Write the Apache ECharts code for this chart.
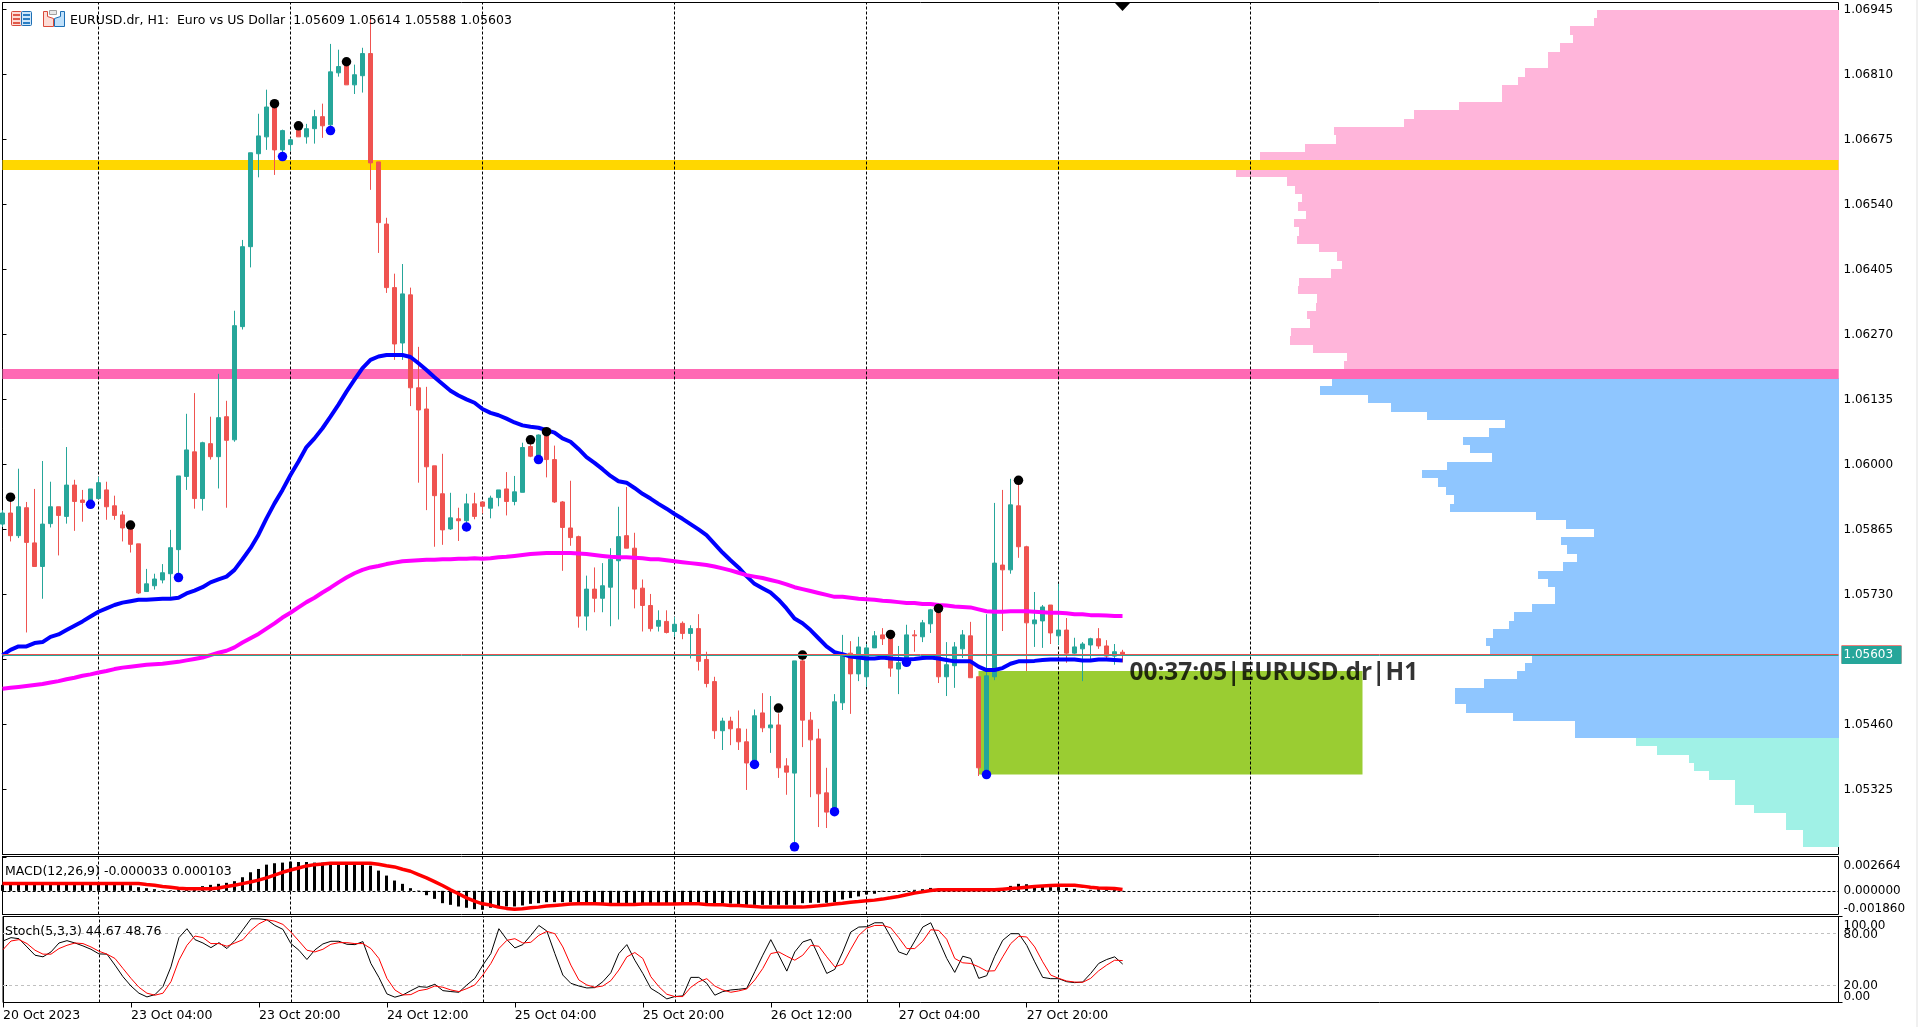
<!DOCTYPE html>
<html><head><meta charset="utf-8"><title>EURUSD.dr H1</title>
<style>html,body{margin:0;padding:0;background:#f0f0f0;overflow:hidden}#c{width:1916px;height:1027px;background:#fff}</style>
<script src="https://cdn.jsdelivr.net/npm/echarts@6/dist/echarts.min.js"></script></head>
<body><div id="c"></div>
<script>
const opens=[1.05875,1.05898,1.05851,1.05909,1.05836,1.05787,1.05876,1.05911,1.05891,1.05956,1.05925,1.05915,1.05928,1.05946,1.05913,1.05894,1.05870,1.05834,1.05735,1.05747,1.05759,1.05772,1.05822,1.05974,1.06025,1.05928,1.06042,1.06015,1.06098,1.06050,1.06285,1.06451,1.06644,1.06679,1.06746,1.06652,1.06663,1.06694,1.06679,1.06696,1.06721,1.06704,1.06812,1.06829,1.06787,1.06806,1.06852,1.06627,1.06498,1.06366,1.06251,1.06351,1.06158,1.06114,1.05996,1.05938,1.05865,1.05886,1.05882,1.05917,1.05921,1.05908,1.05930,1.05948,1.05922,1.05941,1.06036,1.06009,1.06060,1.06009,1.05921,1.05867,1.05849,1.05684,1.05740,1.05721,1.05744,1.05799,1.05851,1.05825,1.05742,1.05706,1.05663,1.05673,1.05652,1.05669,1.05648,1.05658,1.05594,1.05548,1.05446,1.05466,1.05450,1.05423,1.05376,1.05483,1.05452,1.05458,1.05373,1.05358,1.05591,1.05468,1.05429,1.05317,1.05278,1.05504,1.05607,1.05564,1.05558,1.05618,1.05645,1.05638,1.05574,1.05586,1.05645,1.05641,1.05668,1.05697,1.05558,1.05581,1.05616,1.05643,1.05558,1.05364,1.05558,1.05790,1.05780,1.05913,1.05828,1.05668,1.05674,1.05707,1.05643,1.05655,1.05607,1.05616,1.05624,1.05637,1.05622,1.05601,1.05609];
const highs=[1.05904,1.05925,1.05990,1.05921,1.05948,1.06006,1.05963,1.05911,1.06035,1.05967,1.05946,1.05948,1.05973,1.05963,1.05934,1.05902,1.05872,1.05834,1.05782,1.05772,1.05792,1.05863,1.05975,1.06104,1.06147,1.06046,1.06098,1.06187,1.06131,1.06318,1.06465,1.06646,1.06727,1.06777,1.06748,1.06694,1.06677,1.06708,1.06706,1.06735,1.06748,1.06872,1.06860,1.06839,1.06829,1.06864,1.06924,1.06627,1.06511,1.06395,1.06415,1.06366,1.06243,1.06160,1.05996,1.06021,1.05940,1.05909,1.05938,1.05940,1.05921,1.05934,1.05946,1.05983,1.05975,1.06044,1.06046,1.06061,1.06067,1.06038,1.05923,1.05965,1.05851,1.05768,1.05785,1.05794,1.05825,1.05911,1.05952,1.05857,1.05760,1.05730,1.05696,1.05696,1.05682,1.05673,1.05665,1.05688,1.05610,1.05558,1.05473,1.05475,1.05488,1.05450,1.05490,1.05524,1.05518,1.05482,1.05389,1.05591,1.05603,1.05485,1.05450,1.05369,1.05522,1.05645,1.05632,1.05641,1.05626,1.05653,1.05659,1.05646,1.05622,1.05666,1.05655,1.05676,1.05699,1.05700,1.05630,1.05630,1.05655,1.05672,1.05558,1.05688,1.05919,1.05946,1.05969,1.05963,1.05830,1.05734,1.05707,1.05707,1.05751,1.05680,1.05639,1.05630,1.05639,1.05659,1.05634,1.05626,1.05614];
const lows=[1.05869,1.05839,1.05846,1.05650,1.05787,1.05720,1.05868,1.05810,1.05876,1.05861,1.05880,1.05915,1.05928,1.05884,1.05884,1.05839,1.05816,1.05730,1.05735,1.05739,1.05752,1.05724,1.05764,1.05946,1.05907,1.05903,1.06009,1.05949,1.05909,1.06046,1.06279,1.06408,1.06595,1.06652,1.06600,1.06631,1.06650,1.06679,1.06665,1.06665,1.06677,1.06690,1.06804,1.06787,1.06768,1.06771,1.06569,1.06438,1.06355,1.06216,1.06216,1.06120,1.05961,1.05904,1.05828,1.05832,1.05863,1.05840,1.05877,1.05885,1.05897,1.05887,1.05912,1.05893,1.05914,1.05941,1.06014,1.06009,1.05972,1.05919,1.05778,1.05830,1.05660,1.05654,1.05692,1.05692,1.05663,1.05677,1.05825,1.05700,1.05652,1.05652,1.05652,1.05648,1.05641,1.05636,1.05596,1.05571,1.05536,1.05429,1.05406,1.05416,1.05406,1.05323,1.05376,1.05443,1.05400,1.05348,1.05313,1.05205,1.05412,1.05308,1.05246,1.05244,1.05278,1.05489,1.05481,1.05549,1.05537,1.05618,1.05624,1.05558,1.05522,1.05579,1.05610,1.05630,1.05649,1.05545,1.05518,1.05535,1.05597,1.05556,1.05352,1.05354,1.05551,1.05653,1.05772,1.05805,1.05570,1.05620,1.05618,1.05626,1.05624,1.05587,1.05601,1.05549,1.05593,1.05616,1.05597,1.05583,1.05588];
const closes=[1.05898,1.05851,1.05911,1.05837,1.05787,1.05875,1.05911,1.05893,1.05956,1.05922,1.05920,1.05948,1.05961,1.05911,1.05893,1.05867,1.05833,1.05732,1.05751,1.05761,1.05774,1.05826,1.05975,1.06029,1.05928,1.06044,1.06015,1.06096,1.06049,1.06287,1.06451,1.06646,1.06681,1.06741,1.06652,1.06692,1.06673,1.06679,1.06696,1.06721,1.06702,1.06814,1.06825,1.06787,1.06808,1.06852,1.06625,1.06501,1.06366,1.06249,1.06353,1.06158,1.06112,1.05994,1.05934,1.05863,1.05888,1.05882,1.05917,1.05891,1.05912,1.05929,1.05946,1.05922,1.05942,1.06034,1.06016,1.06060,1.06009,1.05921,1.05868,1.05847,1.05684,1.05740,1.05721,1.05747,1.05802,1.05849,1.05825,1.05740,1.05706,1.05658,1.05675,1.05650,1.05667,1.05648,1.05658,1.05590,1.05544,1.05446,1.05466,1.05450,1.05423,1.05379,1.05477,1.05452,1.05458,1.05369,1.05360,1.05591,1.05468,1.05427,1.05315,1.05277,1.05506,1.05601,1.05564,1.05620,1.05618,1.05643,1.05637,1.05576,1.05587,1.05645,1.05643,1.05670,1.05697,1.05558,1.05583,1.05620,1.05645,1.05556,1.05369,1.05560,1.05794,1.05780,1.05915,1.05828,1.05670,1.05676,1.05703,1.05649,1.05655,1.05607,1.05620,1.05626,1.05637,1.05622,1.05601,1.05610,1.05603];
const blueMA=[1.05603,1.05614,1.05621,1.05621,1.05628,1.05630,1.05641,1.05646,1.05655,1.05664,1.05673,1.05683,1.05693,1.05700,1.05707,1.05712,1.05715,1.05718,1.05718,1.05719,1.05720,1.05720,1.05722,1.05731,1.05737,1.05744,1.05754,1.05760,1.05766,1.05780,1.05802,1.05825,1.05853,1.05887,1.05918,1.05946,1.05977,1.06005,1.06035,1.06053,1.06074,1.06098,1.06123,1.06150,1.06175,1.06199,1.06216,1.06223,1.06226,1.06226,1.06226,1.06222,1.06209,1.06195,1.06180,1.06166,1.06152,1.06142,1.06134,1.06127,1.06114,1.06106,1.06101,1.06094,1.06086,1.06080,1.06077,1.06075,1.06070,1.06065,1.06053,1.06046,1.06031,1.06014,1.06002,1.05989,1.05975,1.05964,1.05961,1.05950,1.05938,1.05928,1.05917,1.05907,1.05896,1.05886,1.05875,1.05864,1.05852,1.05834,1.05816,1.05800,1.05785,1.05767,1.05751,1.05742,1.05733,1.05718,1.05700,1.05679,1.05669,1.05655,1.05638,1.05621,1.05609,1.05605,1.05600,1.05598,1.05596,1.05596,1.05598,1.05596,1.05595,1.05594,1.05595,1.05597,1.05598,1.05596,1.05593,1.05590,1.05590,1.05590,1.05579,1.05572,1.05572,1.05576,1.05585,1.05590,1.05590,1.05591,1.05593,1.05594,1.05594,1.05594,1.05594,1.05592,1.05592,1.05594,1.05594,1.05593,1.05592];
const magentaMA=[1.05533,1.05535,1.05537,1.05539,1.05541,1.05543,1.05546,1.05549,1.05553,1.05556,1.05560,1.05563,1.05567,1.05570,1.05574,1.05577,1.05579,1.05581,1.05583,1.05584,1.05585,1.05587,1.05589,1.05592,1.05595,1.05598,1.05603,1.05608,1.05612,1.05619,1.05629,1.05638,1.05647,1.05658,1.05669,1.05681,1.05691,1.05702,1.05713,1.05722,1.05733,1.05743,1.05754,1.05764,1.05773,1.05780,1.05785,1.05788,1.05792,1.05795,1.05798,1.05799,1.05800,1.05801,1.05801,1.05802,1.05802,1.05803,1.05803,1.05804,1.05803,1.05804,1.05806,1.05807,1.05809,1.05811,1.05813,1.05814,1.05815,1.05815,1.05815,1.05815,1.05814,1.05813,1.05811,1.05809,1.05807,1.05806,1.05806,1.05805,1.05804,1.05802,1.05802,1.05800,1.05798,1.05796,1.05794,1.05792,1.05790,1.05787,1.05783,1.05779,1.05774,1.05769,1.05766,1.05763,1.05759,1.05755,1.05750,1.05744,1.05740,1.05736,1.05732,1.05728,1.05724,1.05724,1.05722,1.05720,1.05719,1.05718,1.05716,1.05715,1.05713,1.05711,1.05711,1.05709,1.05709,1.05707,1.05706,1.05704,1.05703,1.05702,1.05698,1.05694,1.05693,1.05693,1.05694,1.05694,1.05694,1.05693,1.05692,1.05691,1.05691,1.05690,1.05688,1.05688,1.05686,1.05686,1.05685,1.05684,1.05684];
const macdHist=[.00047,.00047,.00047,.00047,.00047,.00047,.00047,.00047,.00047,.00047,.00047,.00047,.00047,.00047,.00047,.00047,.00044,.00029,.00021,.00013,.00005,.00005,.00010,.00016,.00023,.00037,.00047,.00055,.00063,.00076,.00107,.00146,.00172,.00206,.00217,.00222,.00230,.00227,.00227,.00222,.00222,.00217,.00217,.00217,.00217,.00211,.00198,.00159,.00120,.00081,.00055,.00021,.00003,-.00034,-.00063,-.00097,-.00110,-.00123,-.00133,-.00144,-.00149,-.00133,-.00133,-.00123,-.00123,-.00115,-.00102,-.00097,-.00089,-.00089,-.00089,-.00089,-.00089,-.00089,-.00089,-.00094,-.00097,-.00102,-.00102,-.00102,-.00102,-.00102,-.00102,-.00102,-.00102,-.00102,-.00102,-.00102,-.00102,-.00097,-.00097,-.00100,-.00105,-.00110,-.00110,-.00110,-.00110,-.00110,-.00110,-.00110,-.00097,-.00094,-.00094,-.00094,-.00089,-.00068,-.00057,-.00044,-.00029,-.00023,-.00003,0,0,.00003,.00008,.00013,.00023,.00016,.00005,.00003,.00003,.00003,.00003,.00003,.00008,.00018,.00039,.00055,.00052,.00044,.00039,.00029,.00029,.00023,.00016,.00005,.00008,.00013,.00013,.00008,-.00003];
const macdSignal=[.00057,.00057,.00057,.00057,.00057,.00057,.00057,.00057,.00057,.00057,.00057,.00057,.00057,.00057,.00057,.00057,.00057,.00057,.00050,.00044,.00034,.00029,.00021,.00016,.00016,.00016,.00016,.00023,.00034,.00044,.00057,.00070,.00084,.00102,.00123,.00146,.00164,.00180,.00196,.00206,.00211,.00217,.00217,.00217,.00217,.00217,.00217,.00209,.00198,.00188,.00170,.00154,.00128,.00102,.00073,.00042,.00008,-.00023,-.00055,-.00081,-.00102,-.00112,-.00128,-.00138,-.00144,-.00141,-.00133,-.00128,-.00120,-.00115,-.00110,-.00104,-.00102,-.00102,-.00102,-.00104,-.00107,-.00107,-.00107,-.00107,-.00104,-.00104,-.00104,-.00104,-.00104,-.00102,-.00102,-.00102,-.00107,-.00110,-.00110,-.00115,-.00115,-.00120,-.00123,-.00128,-.00128,-.00128,-.00128,-.00128,-.00128,-.00123,-.00118,-.00112,-.00104,-.00097,-.00089,-.00084,-.00078,-.00073,-.00065,-.00055,-.00044,-.00031,-.00018,-.00008,.00003,.00008,.00008,.00008,.00008,.00008,.00008,.00008,.00008,.00013,.00018,.00023,.00029,.00034,.00039,.00042,.00044,.00044,.00044,.00037,.00029,.00023,.00021,.00018,.00010];
const stochMain=[71.5,75.4,74.2,64.6,55,53.1,58.8,69.2,71.9,69.2,65.8,61.9,56.5,56.2,43.5,30,19.2,10.8,6.5,9.2,18.5,41.5,75.4,85.8,73.1,69.2,63.8,69.6,62.7,72.3,84.6,97.3,97.3,96.2,89.6,85,68.5,60.8,50,61.2,68.1,71.2,71.2,67.7,67.3,70.8,45.4,29.2,10,6.2,8.8,13.8,18.5,17.7,21.2,13.8,12.7,11.9,20.4,28.1,43.5,56.9,85.8,73.1,63.5,67.3,78.1,89.6,83.1,56.9,31.9,22.3,19.2,16.9,17.3,24.2,34.6,56.9,67.3,49.2,33.8,16.5,10.8,4.2,6.9,7.7,29.2,29.2,22.3,8.5,12.7,14.6,15.4,16.5,35.8,55,73.1,55,36.5,58.8,70.4,73.5,53.8,33.8,38.5,58.8,81.9,87.7,88.1,92.7,92.7,76.2,58.8,55.4,71.5,87.7,92.7,72.3,51.2,35,53.8,51.2,28.1,31.2,53.8,72.3,80,80,66.5,47.3,29.2,27.7,27.7,24.2,23.1,23.8,33.8,45.4,50,53.1,44.67];
const stochSignal=[61.5,71.5,73.1,68.5,60.8,56.2,56.2,62.7,66.5,69.2,68.5,64.6,59.6,56.2,51.2,39.6,28.1,17.7,10.8,8.5,10.8,24.2,49.2,66.5,77.3,75.4,68.5,68.5,65.4,69.2,73.1,83.8,91.5,96.2,94.6,90.8,81.9,71.5,60.8,58.8,61.9,67.7,69.6,69.6,68.5,68.5,62.7,51.2,28.1,14.6,8.8,9.2,13.8,15.4,19.2,17.7,14.6,12.7,16.2,20.4,31.9,45.4,62.7,72.3,74.2,69.2,70,78.1,82.7,80,64.6,43.5,26.2,20.4,17.7,19.2,25.4,37.7,53.1,58.1,51.2,30,18.5,9.6,6.9,6.9,17.7,24.2,27.7,19.2,14.6,11.9,13.5,15.8,26.2,39.6,56.9,58.8,53.8,49.2,55,66.5,65.4,53.1,41.5,44.6,61.9,78.1,86.5,89.6,89.6,86.9,75.4,62.7,62.7,71.2,84.6,83.8,73.5,51.2,46.2,45.4,41.5,36.5,36.9,53.1,68.5,76.9,76.2,64.6,47.3,31.9,28.1,25,23.8,23.5,28.1,36.9,43.5,49.2,48.76];
const highDotBars=[1,16,34,37,43,66,68,97,100,111,117,127];
const highDotPrices=[1.05931,1.05873,1.06748,1.06702,1.06835,1.06050,1.06067,1.05493,1.05603,1.05646,1.05700,1.05966];
const lowDotBars=[11,22,35,41,58,67,94,99,104,113,123];
const lowDotPrices=[1.05916,1.05764,1.06638,1.06692,1.05869,1.06009,1.05376,1.05205,1.05278,1.05588,1.05355];
const profileVolumes=[242,245,269,266,279,291,291,314,321,337,337,380,425,435,505,503,534,579,590,603,552,544,537,541,533,545,540,542,520,502,497,508,540,541,522,523,532,529,548,549,526,492,495,500,507,519,471,448,412,334,350,376,369,347,392,417,401,393,385,389,303,273,245,278,272,262,276,301,291,284,284,307,325,330,346,353,349,307,314,322,355,384,384,373,326,264,264,203,182,150,145,130,104,104,104,85,53,53,36,36];
const profileTop=1.06943, profileStep=0.0001738, pinkRows=44, blueRows=87;
const dayLineBars=[12,36,60,84,108,132,156];
const timeTickBars=[0,16,32,48,64,80,96,112,128];
const timeTickLabels=['20 Oct 2023','23 Oct 04:00','23 Oct 20:00','24 Oct 12:00','25 Oct 04:00','25 Oct 20:00','26 Oct 12:00','27 Oct 04:00','27 Oct 20:00'];
const priceTicks=[1.05325,1.05460,1.05595,1.05730,1.05865,1.06000,1.06135,1.06270,1.06405,1.06540,1.06675,1.06810,1.06945];
const macdTicks=[-0.00186,0,0.002664];
const stochInnerTicks=[20,80];
const stochEdgeTicks=[0,100];
const stochLevels=[20,80];
const resistance=1.06621, support=1.06187, bid=1.05603, ask=1.05605;
const zoneBars=[122,170], zonePrices=[1.05570,1.05355];
const commentBar=141, commentPrice=1.05570, commentText='00:37:05|EURUSD.dr|H1';
const titleMain='EURUSD.dr, H1:  Euro vs US Dollar  1.05609 1.05614 1.05588 1.05603';
const titleMacd='MACD(12,26,9) -0.000033 0.000103';
const titleStoch='Stoch(5,3,3) 44.67 48.76';

const FONT='"DejaVu Sans"';
const TEAL='#26a69a',RED='#ef5350';
const bars=opens.map((_,i)=>i);
const pairs=a=>a.map((v,i)=>[i,v]);
const L=2.5,W=1836,XMAX=W/8;
const grids=[{left:L,top:2.5,width:W,height:852},{left:L,top:856.5,width:W,height:58},{left:L,top:916.5,width:W,height:86}]
  .map(g=>Object.assign(g,{show:true,backgroundColor:'transparent',borderColor:'#000',borderWidth:1}));
const hiddenX=i=>({type:'value',gridIndex:i,min:0,max:XMAX,show:false});
const yAxisCommon=(i,min,max,ticks,fmt,extra)=>({type:'value',gridIndex:i,position:'right',min,max,
  axisLine:{show:true,lineStyle:{color:'#000',width:1}},
  axisTick:{show:true,length:4,customValues:ticks,lineStyle:{color:'#000'}},
  axisLabel:Object.assign({show:true,customValues:ticks,margin:5,color:'#000',fontFamily:FONT,fontSize:12,formatter:fmt,hideOverlap:false},extra||{}),
  splitLine:{show:false}});
const pinned={verticalAlignMaxLabel:'top',verticalAlignMinLabel:'bottom',padding:[3,0,0,0],showMinLabel:true,showMaxLabel:true};
const droppedLabel={verticalAlign:'top',verticalAlignMaxLabel:'top',verticalAlignMinLabel:'top',padding:[-5,0,0,0],showMinLabel:true,showMaxLabel:true};
const dayLines=g=>({type:'line',xAxisIndex:g,yAxisIndex:g,data:[],silent:true,z:3,
  markLine:{silent:true,z:3,symbol:'none',animation:false,precision:6,label:{show:false},
    lineStyle:{color:'#000',width:1,type:[3,2]},data:dayLineBars.map(b=>({xAxis:b}))}});
const titleStyle={fontFamily:FONT,fontSize:12.5,fontWeight:'normal',color:'#000'};

const option={animation:false,backgroundColor:'#fff',
  grid:grids,
  title:[
    {text:titleMain,left:70,top:14,padding:0,textStyle:titleStyle},
    {text:titleMacd,left:5,top:865,padding:0,textStyle:titleStyle},
    {text:titleStoch,left:5,top:925,padding:0,textStyle:titleStyle}
  ],
  xAxis:[hiddenX(0),hiddenX(1),
    {type:'value',gridIndex:2,min:0,max:XMAX,position:'bottom',
      axisLine:{show:false},
      axisTick:{show:true,length:5,customValues:timeTickBars,lineStyle:{color:'#000'}},
      axisLabel:{show:true,customValues:timeTickBars,align:'left',margin:7,color:'#000',fontFamily:FONT,fontSize:12.5,hideOverlap:false,showMinLabel:true,
        formatter:v=>timeTickLabels[timeTickBars.indexOf(v)]||''},
      splitLine:{show:false}},
    {type:'value',gridIndex:0,inverse:true,min:0,max:W,show:false,position:'top'}
  ],
  yAxis:[
    yAxisCommon(0,1.05189,1.06958,priceTicks,v=>v.toFixed(5),droppedLabel),
    yAxisCommon(1,-0.00186,0.0027,macdTicks,v=>v.toFixed(6),pinned),
    yAxisCommon(2,0,100,stochInnerTicks,v=>v.toFixed(2),droppedLabel),
    yAxisCommon(2,0,100,stochEdgeTicks,v=>v.toFixed(2),pinned)
  ],
  graphic:[
    {type:'group',silent:true,z:20,children:[
      {type:'rect',shape:{x:11.5,y:11.5,width:10,height:14,r:1},style:{fill:'#fddcd6',stroke:'#d94a3a',lineWidth:1}},
      {type:'rect',shape:{x:21.5,y:11.5,width:10,height:14,r:1},style:{fill:'#cfe6fa',stroke:'#1c6fb5',lineWidth:1}},
      {type:'rect',shape:{x:13,y:14,width:7,height:2},style:{fill:'#e05a4a'}},
      {type:'rect',shape:{x:13,y:18,width:7,height:2},style:{fill:'#e05a4a'}},
      {type:'rect',shape:{x:13,y:22,width:7,height:2},style:{fill:'#e05a4a'}},
      {type:'rect',shape:{x:23,y:14,width:7,height:2},style:{fill:'#2b7fc4'}},
      {type:'rect',shape:{x:23,y:18,width:7,height:2},style:{fill:'#2b7fc4'}},
      {type:'rect',shape:{x:23,y:22,width:7,height:2},style:{fill:'#2b7fc4'}},
      {type:'polygon',shape:{points:[[43.5,11.5],[47.5,11.5],[47.5,16.5],[53.5,18.5],[53.5,26.5],[43.5,26.5]]},style:{fill:'#fddcd6',stroke:'#d94a3a',lineWidth:1}},
      {type:'polygon',shape:{points:[[60.5,11.5],[64.5,11.5],[64.5,26.5],[54.5,26.5],[54.5,18.5],[60.5,16.5]]},style:{fill:'#bfe0fa',stroke:'#1c6fb5',lineWidth:1}},
      {type:'rect',shape:{x:49.5,y:10.5,width:7,height:4},style:{fill:'#e8e8e8',stroke:'#a0a0a0',lineWidth:1}},
      {type:'polygon',shape:{points:[[1115,3],[1130,3],[1122.5,11]]},style:{fill:'#000'}}
    ]}
  ],
  series:[
    {type:'custom',name:'Volume profile',xAxisIndex:3,yAxisIndex:0,z:1,silent:true,clip:false,
      data:profileVolumes.map((v,k)=>[v,k]),
      renderItem:(p,api)=>{
        const v=api.value(0),k=api.value(1);
        const a=api.coord([v,profileTop-k*profileStep]),b=api.coord([0,profileTop-(k+1)*profileStep]);
        const x=Math.round(a[0]),y=Math.round(a[1]),x2=Math.round(b[0]),y2=Math.round(b[1]);
        return {type:'rect',shape:{x,y,width:x2-x,height:y2-y},
          style:{fill:k<pinkRows?'#ffb5da':k<blueRows?'#8fc6ff':'#a0f1e6'}};
      }},
    {type:'line',name:'Zone',xAxisIndex:0,yAxisIndex:0,data:[],silent:true,z:1,
      markArea:{silent:true,z:1,animation:false,precision:6,itemStyle:{color:'#9acd32',opacity:1},label:{show:false},
        data:[[{coord:[zoneBars[0],zonePrices[0]]},{coord:[zoneBars[1],zonePrices[1]]}]]}},
    {type:'line',name:'Levels',xAxisIndex:0,yAxisIndex:0,data:[],silent:true,z:2,
      markLine:{silent:true,z:2,symbol:'none',animation:false,precision:6,label:{show:false},
        data:[{yAxis:resistance,lineStyle:{color:'#ffd700',width:10,type:'solid'}},
              {yAxis:support,lineStyle:{color:'#ff69b4',width:10,type:'solid'}}]}},
    dayLines(0),dayLines(1),dayLines(2),
    {type:'line',name:'Price lines',xAxisIndex:0,yAxisIndex:0,data:[],silent:true,z:3,
      markLine:{silent:true,z:8,symbol:'none',animation:false,precision:6,
        data:[
          {yAxis:ask,lineStyle:{color:RED,width:1,type:'solid'},
            label:{show:true,position:'end',distance:3,formatter:()=>bid.toFixed(5),backgroundColor:RED,color:RED,fontFamily:FONT,fontSize:12,lineHeight:14,padding:[2,2],width:56,align:'left'}},
          {yAxis:bid,lineStyle:{color:TEAL,width:1,type:'solid'},
            label:{show:true,position:'end',distance:3,formatter:()=>bid.toFixed(5),backgroundColor:TEAL,color:'#fff',fontFamily:FONT,fontSize:12,lineHeight:14,padding:[2,2],width:56,align:'left'}}
        ]}},
    {type:'candlestick',name:'EURUSD.dr',xAxisIndex:0,yAxisIndex:0,z:4,silent:true,barWidth:4,large:false,progressive:0,
      encode:{x:0,y:[1,2,3,4]},
      data:bars.map(i=>[i,opens[i],closes[i],lows[i],highs[i]]),
      itemStyle:{color:TEAL,color0:RED,borderColor:TEAL,borderColor0:RED,borderWidth:1}},
    {type:'line',name:'MA fast',xAxisIndex:0,yAxisIndex:0,z:5,silent:true,symbol:'none',data:pairs(blueMA),lineStyle:{color:'#0000ff',width:4}},
    {type:'line',name:'MA slow',xAxisIndex:0,yAxisIndex:0,z:5,silent:true,symbol:'none',data:pairs(magentaMA),lineStyle:{color:'#ff00ff',width:4}},
    {type:'scatter',name:'Swing highs',xAxisIndex:0,yAxisIndex:0,z:6,silent:true,symbolSize:9.5,data:highDotBars.map((b,i)=>[b,highDotPrices[i]]),itemStyle:{color:'#000',opacity:1}},
    {type:'scatter',name:'Swing lows',xAxisIndex:0,yAxisIndex:0,z:6,silent:true,symbolSize:9.5,data:lowDotBars.map((b,i)=>[b,lowDotPrices[i]]),itemStyle:{color:'#0000ff',opacity:1}},
    {type:'scatter',name:'Comment',xAxisIndex:0,yAxisIndex:0,z:7,silent:true,symbolSize:0,clip:false,data:[[commentBar,commentPrice]],
      label:{show:true,position:'right',distance:0,offset:[-1,2],formatter:commentText,color:'#000',fontFamily:'"Open Sans"',fontWeight:'bold',fontSize:24.4}},
    {type:'line',name:'MACD zero',xAxisIndex:1,yAxisIndex:1,data:[],silent:true,z:1,
      markLine:{silent:true,z:1,symbol:'none',animation:false,precision:6,label:{show:false},lineStyle:{color:'#000',width:1,type:[3,2]},data:[{yAxis:0}]}},
    {type:'bar',name:'MACD',xAxisIndex:1,yAxisIndex:1,z:4,silent:true,barWidth:3,data:pairs(macdHist),itemStyle:{color:'#000'}},
    {type:'line',name:'Signal',xAxisIndex:1,yAxisIndex:1,z:5,silent:true,symbol:'none',data:pairs(macdSignal),lineStyle:{color:'#ff0000',width:3.5}},
    {type:'line',name:'Stoch levels',xAxisIndex:2,yAxisIndex:2,data:[],silent:true,z:1,
      markLine:{silent:true,z:1,symbol:'none',animation:false,precision:6,label:{show:false},lineStyle:{color:'#c0c0c0',width:1,type:[3,3]},data:stochLevels.map(v=>({yAxis:v}))}},
    {type:'line',name:'%K',xAxisIndex:2,yAxisIndex:2,z:4,silent:true,symbol:'none',data:pairs(stochMain),lineStyle:{color:'#000',width:1}},
    {type:'line',name:'%D',xAxisIndex:2,yAxisIndex:2,z:5,silent:true,symbol:'none',data:pairs(stochSignal),lineStyle:{color:'#ff0000',width:1}}
  ]};
const chart=echarts.init(document.getElementById('c'),null,{renderer:'canvas'});
chart.setOption(option);
</script></body></html>
